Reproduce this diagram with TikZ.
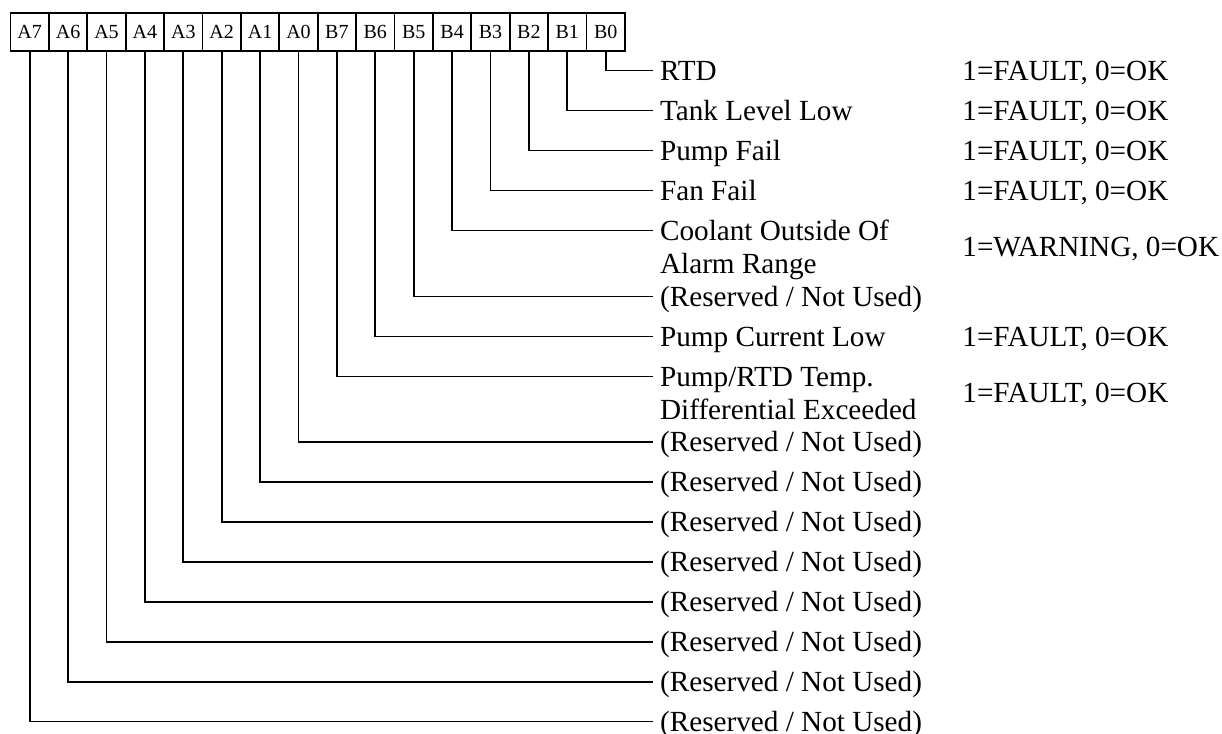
\documentclass[tikz,border=0pt]{standalone}
\usepackage{fontspec}
\setmainfont{Liberation Serif}

\tikzset{
  bitbox/.style={draw, line width=0.9pt, minimum width=19.2pt, minimum height=19pt,
                 inner sep=0pt, font=\fontsize{10pt}{12pt}\selectfont},
  lbl/.style={anchor=west, inner xsep=3.5pt, inner ysep=0pt, text height=9.67pt,
              text depth=0pt, font=\fontsize{14.6pt}{17pt}\selectfont},
  wire/.style={line width=0.9pt}
}

\begin{document}
\begin{tikzpicture}[x=0.5pt, y=-0.5pt]
  \useasboundingbox (0,0) rectangle (1222,734);
  % the 16 bits of the status word
  \foreach \n [count=\i from 0] in {A7,A6,A5,A4,A3,A2,A1,A0,B7,B6,B5,B4,B3,B2,B1,B0}
    \node[bitbox] (\n) at (29.7+38.4*\i, 31.7) {\n};
  % each bit runs down and out to its meaning
  \foreach \n/\y/\txt in {B0/70.5/RTD, B1/110.5/{Tank Level Low}, B2/150.5/{Pump Fail},
      B3/190.5/{Fan Fail}, B4/230.5/{Coolant Outside Of}, B5/296.5/{(Reserved / Not Used)},
      B6/336.5/{Pump Current Low}, B7/376.5/{Pump/RTD Temp.},
      A0/442/{(Reserved / Not Used)}, A1/482/{(Reserved / Not Used)},
      A2/522/{(Reserved / Not Used)}, A3/562/{(Reserved / Not Used)},
      A4/602/{(Reserved / Not Used)}, A5/642/{(Reserved / Not Used)},
      A6/682/{(Reserved / Not Used)}, A7/721.5/{(Reserved / Not Used)}}
  {
    \coordinate (end\n) at (652.7,\y);
    \draw[wire] (\n.south) |- (end\n);
    \node[lbl] (lbl\n) at (end\n) {\txt};
  }
  % second lines of the long ones
  \node[lbl] (lblB4b) at (652.7,263.5) {Alarm Range};
  \node[lbl] (lblB7b) at (652.7,409.5) {Differential Exceeded};
  % what a set bit means
  \foreach \n/\y/\txt in {B0/70.5/{1=FAULT, 0=OK}, B1/110.5/{1=FAULT, 0=OK},
      B2/150.5/{1=FAULT, 0=OK}, B3/190.5/{1=FAULT, 0=OK}, B4/247/{1=WARNING, 0=OK},
      B6/336.5/{1=FAULT, 0=OK}, B7/393/{1=FAULT, 0=OK}}
    \node[lbl] (st\n) at (955,\y) {\txt};
\end{tikzpicture}
\end{document}
